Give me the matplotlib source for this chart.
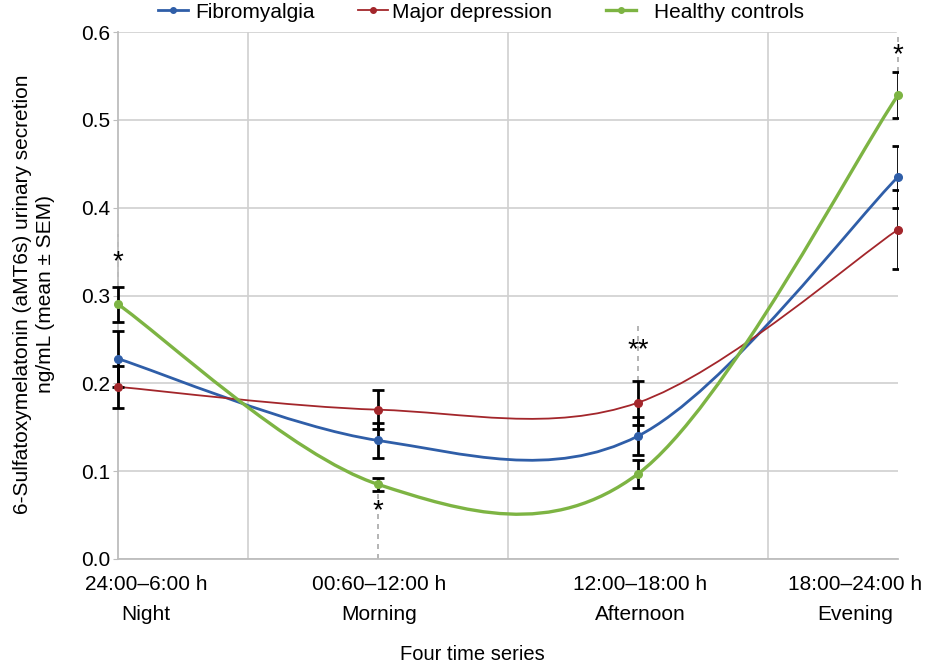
import matplotlib
matplotlib.use("Agg")
import matplotlib.pyplot as plt
from matplotlib.path import Path
from matplotlib.patches import PathPatch
from matplotlib.lines import Line2D
from matplotlib.transforms import offset_copy
import numpy as np

plt.rcParams['font.family'] = ['Liberation Sans', 'DejaVu Sans']

time_ranges = ["24:00\u20136:00 h", "00:60\u201312:00 h", "12:00\u201318:00 h", "18:00\u201324:00 h"]
periods = ["Night", "Morning", "Afternoon", "Evening"]
series_names = ["Fibromyalgia", "Major depression", "Healthy controls"]
fibro = [0.228, 0.135, 0.140, 0.435]
fibro_sem = [0.032, 0.020, 0.022, 0.035]
depr = [0.196, 0.170, 0.178, 0.375]
depr_sem = [0.024, 0.022, 0.025, 0.045]
healthy = [0.290, 0.085, 0.097, 0.528]
healthy_sem = [0.020, 0.0075, 0.016, 0.026]
stars = ["*", "*", "**", "*"]
star_y = [0.338, 0.054, 0.238, 0.574]

colors = ["#2F5EA8", "#A3262B", "#7DB443"]
widths = [2.0, 1.3, 2.4]
FS = 15

fig = plt.figure(figsize=(9.27, 6.72), dpi=100)
ax = fig.add_axes([118/927, 1-559/672, (898-118)/927, (559-32)/672])

x = np.arange(len(periods))


def smooth_path(xs, ys):
    xs = np.asarray(xs, float)
    ys = np.asarray(ys, float)
    n = len(xs)
    xp = np.concatenate([[xs[0]], xs, [xs[-1]]])
    yp = np.concatenate([[ys[0]], ys, [ys[-1]]])
    tx = (xp[2:] - xp[:-2]) / 2.0
    ty = (yp[2:] - yp[:-2]) / 2.0
    verts = [(xs[0], ys[0])]
    codes = [Path.MOVETO]
    for i in range(n - 1):
        verts.append((xs[i] + tx[i] / 3, ys[i] + ty[i] / 3))
        verts.append((xs[i+1] - tx[i+1] / 3, ys[i+1] - ty[i+1] / 3))
        verts.append((xs[i+1], ys[i+1]))
        codes += [Path.CURVE4] * 3
    return Path(verts, codes)


# axes, grid
ax.set_xlim(0, 3)
ax.set_ylim(0, 0.6)
ax.set_xticks(x)
ax.set_xticklabels([])
ax.set_xticks(np.arange(0, 3.01, 0.5), minor=True)
yt = np.arange(0, 0.61, 0.1)
ax.set_yticks(yt)
ax.set_yticklabels([f"{v:.1f}" for v in yt])
ax.grid(True, which='minor', axis='x', color='#D0D0D0', lw=1.2)
ax.grid(True, which='major', axis='y', color='#D0D0D0', lw=1.2)
ax.set_axisbelow(True)
for s in ['top', 'right']:
    ax.spines[s].set_visible(False)
for s in ['left', 'bottom']:
    ax.spines[s].set_color('#BDBDBD')
    ax.spines[s].set_linewidth(1.3)
ax.tick_params(axis='y', length=3.5, color='#BDBDBD', labelsize=FS, pad=2)
ax.tick_params(axis='x', which='both', length=0)

# category labels (edge labels shifted inward as in the original)
label_shift_px = [28, 1, 2, -43]
for xi, tr, pr, dx in zip(x, time_ranges, periods, label_shift_px):
    t1 = offset_copy(ax.get_xaxis_transform(), fig=fig, x=dx, y=-26, units='dots')
    t2 = offset_copy(ax.get_xaxis_transform(), fig=fig, x=dx, y=-56, units='dots')
    ax.text(xi, 0, tr, transform=t1, ha='center', va='center', fontsize=FS, clip_on=False)
    ax.text(xi, 0, pr, transform=t2, ha='center', va='center', fontsize=FS, clip_on=False)

# dashed guides near significance marks
dash_segments = [(0, 0.31, 0.37), (1, 0.0, 0.08), (2, 0.203, 0.265), (3, 0.554, 0.6)]
for xi, y0, y1 in dash_segments:
    ax.plot([xi, xi], [y0, y1], color='white', lw=2.5, zorder=1, clip_on=False)
    ax.plot([xi, xi], [y0, y1], color='#A8A8A8', lw=1.2, ls=(0, (3, 3)), zorder=1.5,
            clip_on=False)

data = [fibro, depr, healthy]
sems = [fibro_sem, depr_sem, healthy_sem]

for vals, c, lw in zip(data, colors, widths):
    ax.add_patch(PathPatch(smooth_path(x, vals), facecolor='none', edgecolor=c,
                           lw=lw, zorder=3, capstyle='round'))

for vals, sem in zip(data, sems):
    for i in range(len(x)):
        eb = ax.errorbar([x[i]], [vals[i]], yerr=[sem[i]], fmt='none', ecolor='black',
                         elinewidth=2.0, capsize=4, capthick=2.0, zorder=4)
        for art in list(eb.lines[1]) + list(eb.lines[2]):
            art.set_clip_on(i == len(x) - 1)

for vals, c in zip(data, colors):
    ax.plot(x, vals, ls='none', marker='o', ms=5.5, color=c, zorder=5, clip_on=False)

for xi, s, sy in zip(x, stars, star_y):
    ax.text(xi, sy, s, ha='center', va='center', fontsize=20, zorder=6)

fig.text(34/927, 1-294/672,
         "6-Sulfatoxymelatonin (aMT6s) urinary secretion\nng/mL (mean \u00b1 SEM)",
         rotation=90, ha='center', va='center', multialignment='center',
         fontsize=FS, linespacing=1.25)
fig.text(472/927, 1-655/672, "Four time series", ha='center', va='center', fontsize=14.5)

# legend (three entries placed like the original)
leg_x = [158, 358, 606]
leg_pad = [0.35, 0.2, 0.85]
for name, c, lw, lx, pad in zip(series_names, colors, widths, leg_x, leg_pad):
    h = Line2D([], [], color=c, lw=lw, marker='o', ms=4)
    lg = fig.legend([h], [name], loc='center left', bbox_to_anchor=(lx/927, 1-12/672),
                    frameon=False, fontsize=FS, handlelength=1.45, handletextpad=pad,
                    borderpad=0, borderaxespad=0)

fig.savefig("out.png", dpi=100)
